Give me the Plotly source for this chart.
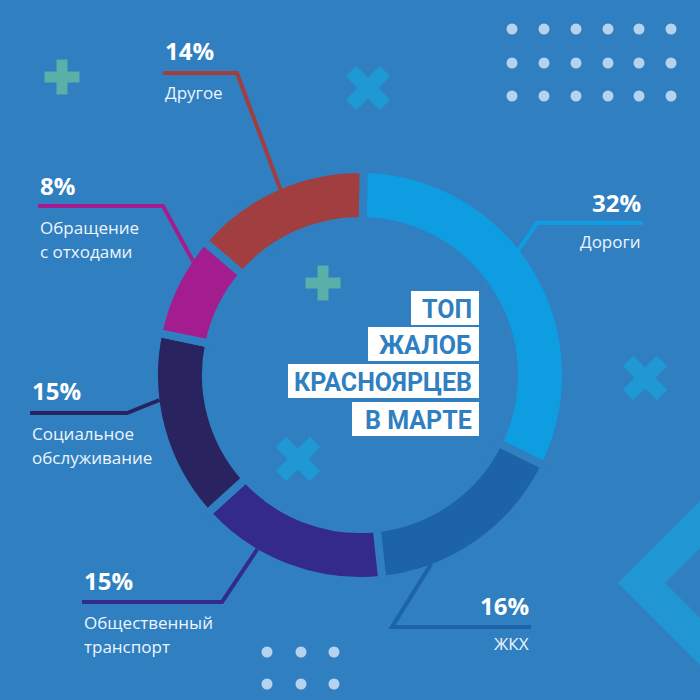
import math
import plotly.graph_objects as go

# ---------------- data ----------------
categories = ["Дороги", "ЖКХ", "Общественный транспорт", "Социальное обслуживание",
              "Обращение с отходами", "Другое"]
values = [32, 16, 15, 15, 8, 14]
label_lines = [["Дороги"], ["ЖКХ"], ["Общественный", "транспорт"], ["Социальное", "обслуживание"],
               ["Обращение", "с отходами"], ["Другое"]]
title_lines = ["ТОП", "ЖАЛОБ", "КРАСНОЯРЦЕВ", "В МАРТЕ"]

# ---------------- style / layout ----------------
BG = "#2f7fc1"
colors = ["#0f9de2", "#1c63a7", "#342a8c", "#29245f", "#a41d8f", "#a13f40"]
W = H = 700
CX, CY = 360, 375          # donut centre (px)
R_DOM = 206                # pie radius incl. stroke
GAP = 8
R_VIS = R_DOM - GAP / 2    # visible outer radius
HOLE = 0.748

# label placement: side, text x, pct y, line y, elbow x, name y, anchor fraction inside slice
label_layout = [
    ("right", 643, 202, 223, 537, 241, 0.44),
    ("right", 531, 605, 627, 392, 643, 0.75),
    ("left", 82, 580, 602, 222, 622, 0.68),
    ("left", 30, 390, 413, 127, 433, 0.65),
    ("left", 38, 185, 206, 163, 227, 0.78),
    ("left", 163, 50, 73, 237, 92, 0.52),
]
title_box_left = [411, 368, 288, 352]
title_box_top = [291, 327, 364, 402]
title_box_h = 34
title_box_right = 479

fig = go.Figure()

fig.add_trace(go.Pie(
    labels=categories, values=values, sort=False, direction="clockwise", rotation=1,
    hole=HOLE, textinfo="none", hoverinfo="label+percent", showlegend=False,
    marker=dict(colors=colors, line=dict(color=BG, width=GAP)),
    domain=dict(x=[(CX - R_DOM) / W, (CX + R_DOM) / W],
                y=[(H - CY - R_DOM) / H, (H - CY + R_DOM) / H]),
))

shapes = []
annotations = []

# ---------- decorations ----------
DOT = "#b5d3ef"
for cx in [512, 544, 576, 608, 639, 671]:
    for cy in [29, 63, 96]:
        shapes.append(dict(type="circle", x0=cx - 5.5, x1=cx + 5.5, y0=cy - 5.5, y1=cy + 5.5,
                           fillcolor=DOT, line=dict(width=0), layer="below"))
for cx in [267, 301, 334]:
    for cy in [652, 684]:
        shapes.append(dict(type="circle", x0=cx - 5.5, x1=cx + 5.5, y0=cy - 5.5, y1=cy + 5.5,
                           fillcolor=DOT, line=dict(width=0), layer="below"))

PLUS = "#5aafa9"
for (cx, cy) in [(62, 77), (323, 283)]:
    s, t = 17.5, 5.5
    shapes.append(dict(type="rect", x0=cx - s, x1=cx + s, y0=cy - t, y1=cy + t,
                       fillcolor=PLUS, line=dict(width=0), layer="below"))
    shapes.append(dict(type="rect", x0=cx - t, x1=cx + t, y0=cy - s, y1=cy + s,
                       fillcolor=PLUS, line=dict(width=0), layer="below"))

XCOL = "#1f98d3"


def bar(cx, cy, a, t, sign):
    # diagonal bar from (cx-a, cy-sign*a) to (cx+a, cy+sign*a), thickness t
    ux, uy = 1 / math.sqrt(2), sign / math.sqrt(2)
    px, py = -uy, ux
    L = a * math.sqrt(2)
    pts = []
    for (l, w) in [(-L, -t / 2), (L, -t / 2), (L, t / 2), (-L, t / 2)]:
        pts.append((cx + ux * l + px * w, cy + uy * l + py * w))
    return "M " + " L ".join(f"{x:.1f},{y:.1f}" for x, y in pts) + " Z"


for (cx, cy) in [(368, 88), (645, 378), (298, 459)]:
    for sg in (1, -1):
        shapes.append(dict(type="path", path=bar(cx, cy, 17, 15, sg),
                           fillcolor=XCOL, line=dict(width=0), layer="below"))

# chevron
shapes.append(dict(type="path",
                   path="M 618,583 L 700,501 L 700,548 L 665,583 L 700,618 L 700,665 Z",
                   fillcolor="#2097d2", line=dict(width=0), layer="below"))

# ---------- labels & leader lines ----------
total = sum(values)
start = 0.0
for i, v in enumerate(values):
    a0 = start / total * 360 + 1
    a1 = (start + v) / total * 360 + 1
    start += v
    side, tx, py, ly, ex, ny, frac = label_layout[i]
    ang = math.radians(a0 + frac * (a1 - a0))
    axp = CX + R_VIS * math.sin(ang)
    ayp = CY - R_VIS * math.cos(ang)
    shapes.append(dict(type="path", path=f"M {tx},{ly} L {ex},{ly} L {axp:.1f},{ayp:.1f}",
                       line=dict(color=colors[i], width=4), layer="above"))
    anchor = "left" if side == "left" else "right"
    annotations.append(dict(x=tx, y=py, text=f"<b>{v}%</b>", showarrow=False,
                            xanchor=anchor, yanchor="middle",
                            font=dict(family="Open Sans", size=24, color="white")))
    for k, line in enumerate(label_lines[i]):
        annotations.append(dict(x=tx, y=ny + 24 * k, text=line, showarrow=False,
                                xanchor=anchor, yanchor="middle",
                                font=dict(family="Open Sans", size=17, color="#eef5fb")))

# ---------- title ----------
for i, t in enumerate(title_lines):
    y0 = title_box_top[i]
    shapes.append(dict(type="rect", x0=title_box_left[i], x1=title_box_right, y0=y0, y1=y0 + title_box_h,
                       fillcolor="white", line=dict(width=0), layer="above"))
    annotations.append(dict(x=title_box_right - 5, y=y0 + title_box_h / 2 + 1, text=f"<b>{t}</b>",
                            showarrow=False, xanchor="right", yanchor="middle",
                            font=dict(family="Roboto", size=25, color=BG)))

for s in shapes:
    s["xref"] = "x"
    s["yref"] = "y"
for a in annotations:
    a["xref"] = "x"
    a["yref"] = "y"

fig.update_layout(
    width=W, height=H, margin=dict(l=0, r=0, t=0, b=0),
    paper_bgcolor=BG, plot_bgcolor="rgba(0,0,0,0)",
    xaxis=dict(range=[0, W], visible=False, fixedrange=True, domain=[0, 1]),
    yaxis=dict(range=[H, 0], visible=False, fixedrange=True, domain=[0, 1]),
    shapes=shapes, annotations=annotations, showlegend=False,
)

fig.write_html("out.html", post_script="document.body.style.margin='0';",
               config={"displayModeBar": False})
